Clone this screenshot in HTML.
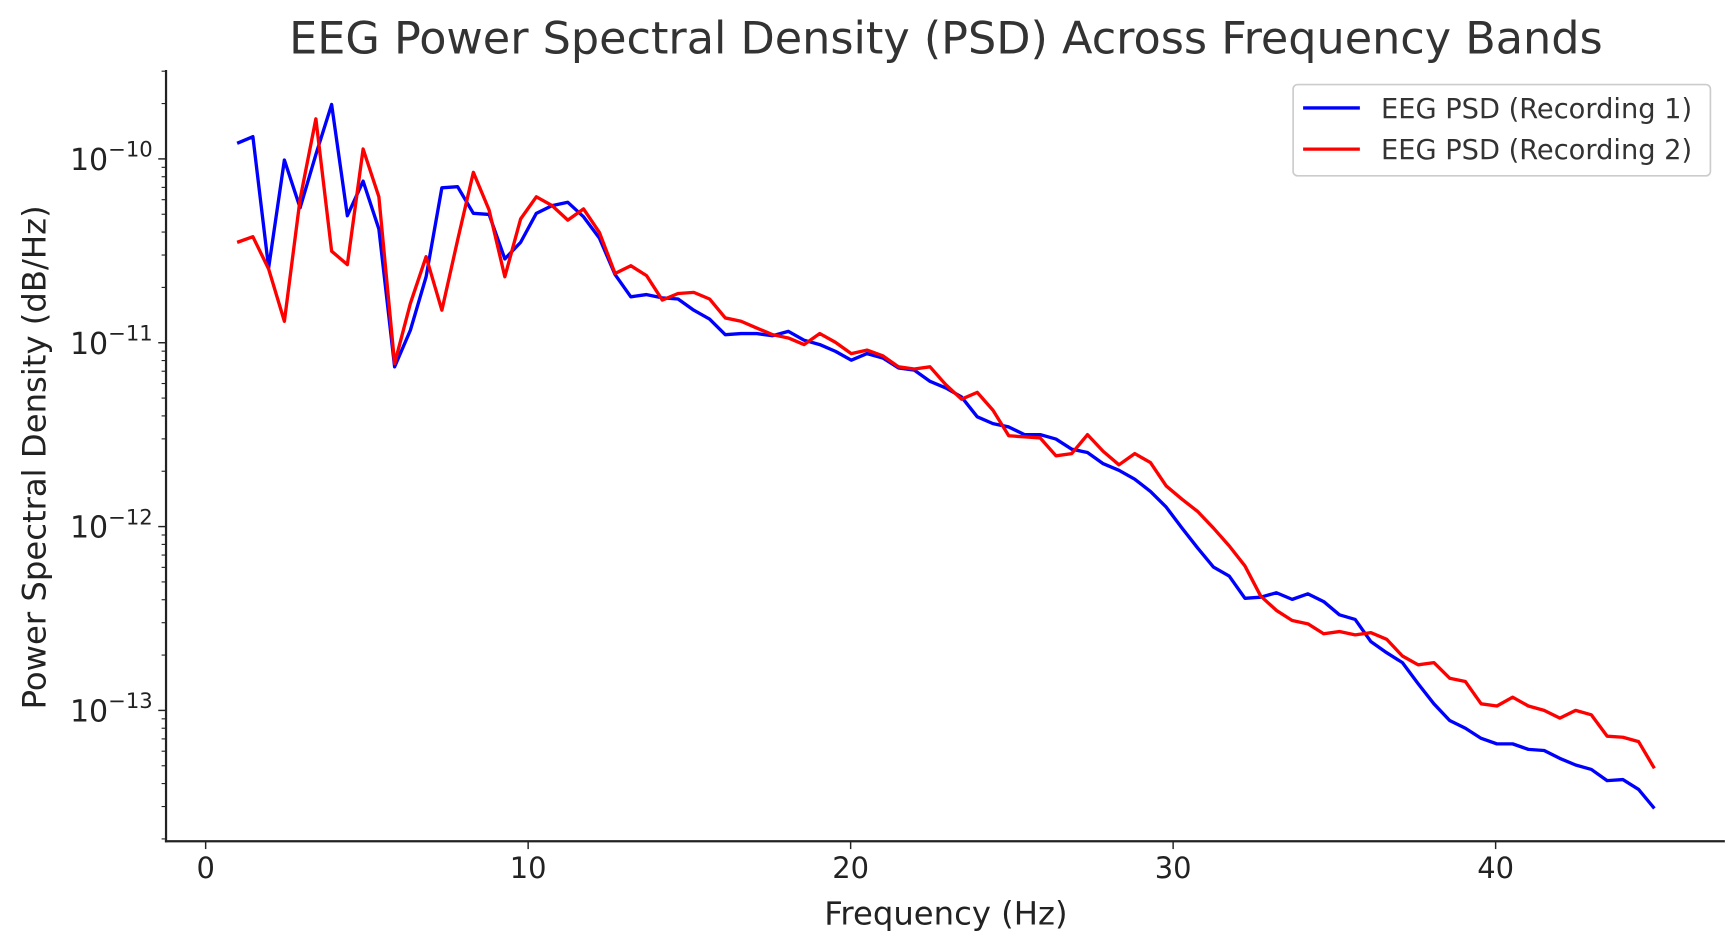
<!DOCTYPE html>
<html><head><meta charset="utf-8"><style>
html,body{margin:0;padding:0;background:#fff;}
svg{display:block;font-family:"DejaVu Sans","Liberation Sans",sans-serif;}
</style></head><body>
<svg id="chart" width="1736" height="947" viewBox="0 0 1560 851" preserveAspectRatio="none" xmlns="http://www.w3.org/2000/svg">
<rect width="1560" height="851" fill="#fff"/>
<text x="850" y="48" text-anchor="middle" font-size="40" fill="#333">EEG Power Spectral Density (PSD) Across Frequency Bands</text>
<g id="axes"></g>
<g id="series"></g>
<text x="850" y="831" text-anchor="middle" font-size="29" fill="#222">Frequency (Hz)</text>
<text transform="translate(41,411) rotate(-90)" text-anchor="middle" font-size="29" fill="#222">Power Spectral Density (dB/Hz)</text>
<g>
<rect x="1162" y="76" width="375" height="82" rx="4" fill="#fff" stroke="#ccc" stroke-width="1.5"/>
<line x1="1171" y1="97" x2="1222" y2="97" stroke="#0000ff" stroke-width="3"/>
<text x="1241" y="106" font-size="24.5" fill="#333">EEG PSD (Recording 1)</text>
<line x1="1171" y1="134" x2="1222" y2="134" stroke="#ff0000" stroke-width="3"/>
<text x="1241" y="143" font-size="24.5" fill="#333">EEG PSD (Recording 2)</text>
</g>
</svg>
<script>
const binIndices = [];
for (let k = 2; k <= 92; k++) binIndices.push(k);
const binResolutionHz = 250/512;
const xTicks = [0, 10, 20, 30, 40];
const yTickExps = [-10, -11, -12, -13];
const psd1Log10 = [-9.915,-9.879,-10.593,-10.006,-10.266,-9.976,-9.704,-10.309,-10.121,-10.381,-11.131,-10.932,-10.641,-10.157,-10.151,-10.296,-10.302,-10.544,-10.454,-10.296,-10.254,-10.236,-10.315,-10.43,-10.629,-10.75,-10.738,-10.756,-10.762,-10.823,-10.871,-10.956,-10.95,-10.95,-10.962,-10.938,-10.986,-11.01,-11.047,-11.095,-11.059,-11.083,-11.137,-11.149,-11.21,-11.246,-11.295,-11.403,-11.44,-11.458,-11.5,-11.5,-11.524,-11.579,-11.597,-11.658,-11.694,-11.742,-11.809,-11.894,-12.008,-12.117,-12.22,-12.269,-12.39,-12.384,-12.36,-12.396,-12.366,-12.408,-12.48,-12.505,-12.626,-12.686,-12.74,-12.855,-12.964,-13.055,-13.097,-13.152,-13.182,-13.182,-13.212,-13.218,-13.261,-13.297,-13.321,-13.382,-13.376,-13.43,-13.533];
const psd2Log10 = [-10.454,-10.423,-10.599,-10.883,-10.218,-9.782,-10.502,-10.575,-9.946,-10.206,-11.113,-10.786,-10.532,-10.823,-10.442,-10.073,-10.278,-10.641,-10.327,-10.206,-10.254,-10.333,-10.272,-10.399,-10.623,-10.581,-10.635,-10.768,-10.732,-10.726,-10.762,-10.865,-10.883,-10.92,-10.956,-10.974,-11.01,-10.95,-10.998,-11.059,-11.04,-11.071,-11.131,-11.143,-11.131,-11.228,-11.307,-11.27,-11.367,-11.506,-11.512,-11.518,-11.615,-11.603,-11.5,-11.591,-11.664,-11.603,-11.652,-11.779,-11.851,-11.918,-12.008,-12.105,-12.214,-12.378,-12.456,-12.511,-12.529,-12.583,-12.571,-12.589,-12.577,-12.613,-12.704,-12.752,-12.74,-12.825,-12.843,-12.964,-12.976,-12.928,-12.976,-13.0,-13.042,-13.0,-13.024,-13.14,-13.146,-13.17,-13.315];

const NS = "http://www.w3.org/2000/svg";
const X0 = 149.2, X1 = 1550, Y0 = 62.9, Y1 = 756;
function xs(f){ return 184.8 + f * 28.98; }
function ys(l){ return 142.8 + (-10 - l) * 165.2; }
function mk(tag, attrs, parent){ const e = document.createElementNS(NS, tag); for (const k in attrs) e.setAttribute(k, attrs[k]); parent.appendChild(e); return e; }
const axes = document.getElementById('axes');
const spL = mk('line', {x1:X0, y1:Y0, x2:X0, y2:Y1+1, stroke:'#222', 'stroke-width':2}, axes);


const spB = mk('line', {x1:X0-1, y1:Y1, x2:X1, y2:Y1, stroke:'#222', 'stroke-width':2}, axes);


xTicks.forEach(t => {
  const x = xs(t);
  mk('line', {x1:x, y1:Y1, x2:x, y2:Y1+7, stroke:'#222', 'stroke-width':1.3}, axes);
  const tx = mk('text', {x:x, y:Y1+33, 'text-anchor':'middle', 'font-size':26, fill:'#222'}, axes);
  tx.textContent = t;
  
  
});
for (let e = -14; e <= -10; e++) {
  for (let m = 1; m <= 9; m++) {
    const l = e + Math.log10(m);
    const y = ys(l);
    if (y < Y0 || y > Y1) continue;
    const len = m === 1 ? 7 : 4;
    mk('line', {x1:X0-len, y1:y, x2:X0, y2:y, stroke:'#222', 'stroke-width': m===1?1.3:1}, axes);
  }
}
yTickExps.forEach(e => {
  const y = ys(e);
  const tx = mk('text', {x:X0-52, y:y+10, 'text-anchor':'end', 'font-size':27, fill:'#222'}, axes);
  tx.textContent = '10';
  
  
  const sup = mk('text', {x:X0-52, y:y-2, 'text-anchor':'start', 'font-size':19, fill:'#222'}, axes);
  sup.textContent = '\u2212' + Math.abs(e);
});
const series = document.getElementById('series');
function draw(vals, color, name){
  const d = vals.map((v,i) => (i?'L':'M') + xs(binIndices[i]*binResolutionHz).toFixed(2) + ',' + ys(v).toFixed(2)).join(' ');
  const p = mk('path', {d:d, fill:'none', stroke:color, 'stroke-width':3, 'stroke-linejoin':'round'}, series);
  
  
}
draw(psd1Log10, '#0000ff', 'line-recording-1');
draw(psd2Log10, '#ff0000', 'line-recording-2');
</script>
</body></html>
